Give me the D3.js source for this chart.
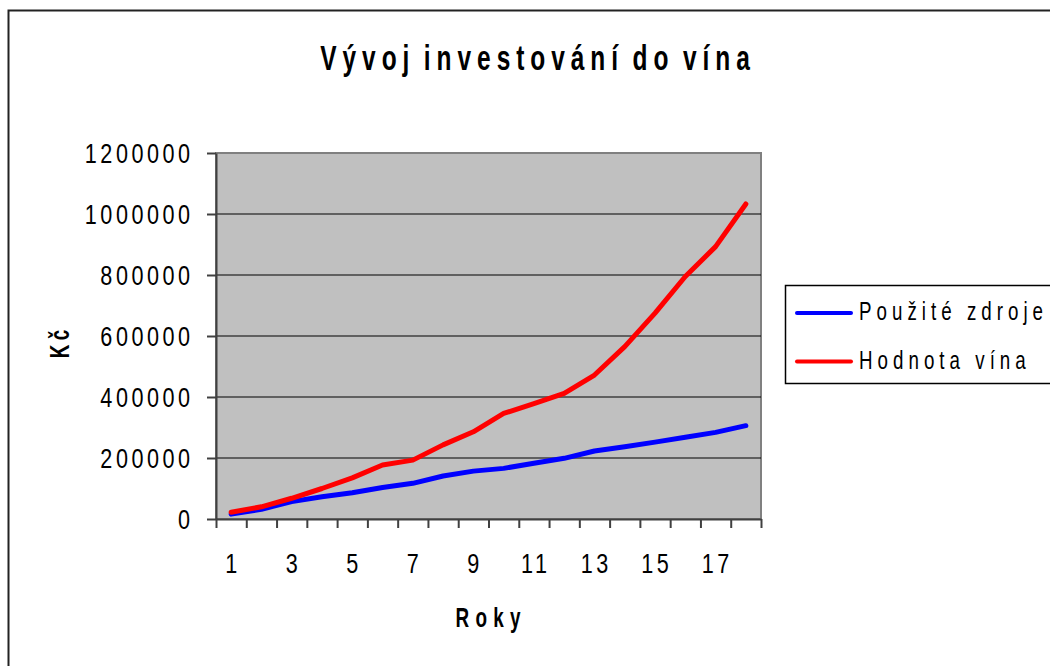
<!DOCTYPE html>
<html>
<head>
<meta charset="utf-8">
<script src="https://cdn.jsdelivr.net/npm/d3@7"></script>
<style>
  body { margin: 0; background: #fff; }
  svg { display: block; font-family: "Liberation Sans", Arial, sans-serif; }
</style>
</head>
<body>
<div id="chart"></div>
<script>
"use strict";

// -- data --
var years = [1, 2, 3, 4, 5, 6, 7, 8, 9, 10, 11, 12, 13, 14, 15, 16, 17, 18];
var pouziteZdroje = [16000, 32000, 57000, 73000, 86000, 103000, 117000, 141000, 157000,
                     166000, 183000, 199000, 223000, 237000, 252000, 268000, 284000, 306000];
var hodnotaVina = [22000, 40000, 68000, 100000, 135000, 177000, 193000, 243000, 286000,
                   346000, 378000, 412000, 472000, 565000, 675000, 795000, 893000, 1033000];
var yTicks = [0, 200000, 400000, 600000, 800000, 1000000, 1200000];
var xTickLabels = [1, 3, 5, 7, 9, 11, 13, 15, 17];
var seriesNames = ["Použité zdroje", "Hodnota vína"];
var seriesColors = ["#0000ff", "#ff0000"];

var width = 1050, height = 666;
var plot = {left: 216, right: 761, top: 153, bottom: 519};

var svg = d3.select("#chart").append("svg")
            .attr("width", width)
            .attr("height", height);

// outer chart border (runs off the right / bottom edges)
svg.append("rect")
   .attr("x", 8.5).attr("y", 10.5)
   .attr("width", 1100).attr("height", 700)
   .attr("fill", "#fff")
   .attr("stroke", "#222")
   .attr("stroke-width", 2);

// narrow, widely spaced text like the old spreadsheet export
function narrowText(parent, txt, x, y, o) {
  var ls = o.ls || 0, sx = o.sx || 1;
  var shift = o.anchor === "end" ? ls : (o.anchor === "middle" ? ls / 2 : 0);
  var rot = o.rotate ? " rotate(" + o.rotate + ")" : "";
  return parent.append("text")
    .attr("transform", "translate(" + x + "," + y + ")" + rot + " scale(" + sx + ",1)")
    .attr("x", shift)
    .attr("text-anchor", o.anchor || "start")
    .style("font-size", o.size + "px")
    .style("font-weight", o.bold ? "bold" : "normal")
    .style("letter-spacing", ls + "px")
    .style("word-spacing", (o.ws || 0) + "px")
    .attr("fill", "#000")
    .text(txt);
}

// -- scales --
var x = d3.scaleBand().domain(years).range([plot.left, plot.right]).paddingInner(0).paddingOuter(0);
var xEdge = d3.scaleLinear().domain([0, years.length]).range([plot.left, plot.right]);
var y = d3.scaleLinear().domain([0, 1200000]).range([plot.bottom, plot.top]);

// plot area
svg.append("rect")
   .attr("x", plot.left).attr("y", plot.top)
   .attr("width", plot.right - plot.left)
   .attr("height", plot.bottom - plot.top)
   .attr("fill", "#c0c0c0")
   .attr("stroke", "#808080")
   .attr("stroke-width", 2);

// gridlines
svg.append("g").selectAll("line")
   .data(yTicks.filter(function (d) { return d > 0 && d < 1200000; }))
   .enter().append("line")
   .attr("x1", plot.left).attr("x2", plot.right)
   .attr("y1", function (d) { return y(d); })
   .attr("y2", function (d) { return y(d); })
   .attr("stroke", "#000")
   .attr("stroke-width", 1);

// axes
var yAxis = svg.append("g")
   .attr("transform", "translate(" + plot.left + ",0)")
   .call(d3.axisLeft(y).tickValues(yTicks).tickSize(9).tickSizeOuter(0).tickFormat(""));
var xAxis = svg.append("g")
   .attr("transform", "translate(0," + plot.bottom + ")")
   .call(d3.axisBottom(xEdge).tickValues(d3.range(0, years.length + 1)).tickSize(9).tickSizeOuter(0).tickFormat(""));
[yAxis, xAxis].forEach(function (a) {
  a.selectAll("path, line").attr("stroke", "#404040").attr("stroke-width", 2);
});

// tick labels
yTicks.forEach(function (d) {
  narrowText(svg, d, 190, y(d) + 10, {size: 27, sx: 0.8, ls: 4.4, anchor: "end"});
});
xTickLabels.forEach(function (d) {
  narrowText(svg, d, x(d) + x.bandwidth() / 2, 573, {size: 27, sx: 0.8, ls: 4.4, anchor: "middle"});
});

// series lines
var line = d3.line()
  .x(function (d, i) { return x(years[i]) + x.bandwidth() / 2; })
  .y(function (d) { return y(d); });

[pouziteZdroje, hodnotaVina].forEach(function (s, i) {
  svg.append("path")
     .datum(s)
     .attr("d", line)
     .attr("fill", "none")
     .attr("stroke", seriesColors[i])
     .attr("stroke-width", 5)
     .attr("stroke-linejoin", "round")
     .attr("stroke-linecap", "round");
});

// titles
narrowText(svg, "Vývoj investování do vína", 535, 70, {size: 35, sx: 0.7, ls: 8.5, ws: -6, anchor: "middle", bold: true});
narrowText(svg, "Roky", 488, 627, {size: 27, sx: 0.7, ls: 9, anchor: "middle", bold: true});
narrowText(svg, "Kč", 69, 344, {size: 27, sx: 0.7, ls: 6, anchor: "middle", bold: true, rotate: -90});

// legend
var legend = svg.append("g");
legend.append("rect")
   .attr("x", 785.5).attr("y", 285.5)
   .attr("width", 300).attr("height", 98)
   .attr("fill", "#fff")
   .attr("stroke", "#000")
   .attr("stroke-width", 1.5);
seriesNames.forEach(function (name, i) {
  var ly = 313 + i * 48.5;
  legend.append("line")
     .attr("x1", 797).attr("x2", 851)
     .attr("y1", ly).attr("y2", ly)
     .attr("stroke", seriesColors[i])
     .attr("stroke-width", 4)
     .attr("stroke-linecap", "round");
  narrowText(legend, name, 859, ly + 7, {size: 25, sx: 0.75, ls: 6.7});
});
</script>
</body>
</html>
